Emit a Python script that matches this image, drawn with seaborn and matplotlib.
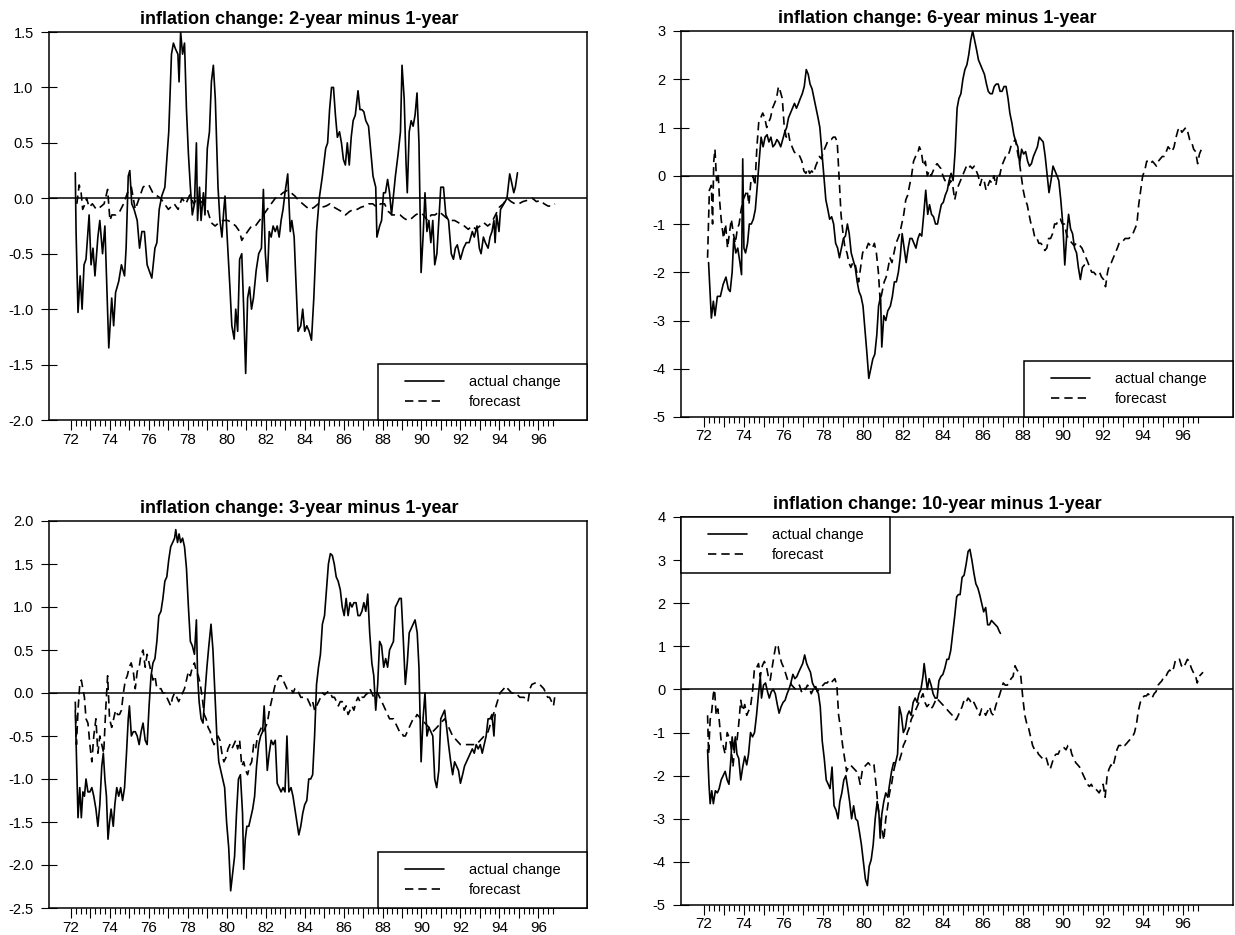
import numpy as np
import pandas as pd
import matplotlib
matplotlib.use("Agg")
import matplotlib.pyplot as plt
from matplotlib.patches import Rectangle
import seaborn as sns

sns.set_style("ticks")
plt.rcParams["font.family"] = ["Liberation Sans", "DejaVu Sans"]
plt.rcParams["axes.unicode_minus"] = False
plt.rcParams["text.color"] = "black"
plt.rcParams["axes.titlecolor"] = "black"

# years are two-digit decimal years (72.5 = mid 1972)

# ---- 2-year minus 1-year ----
yr_2y_act = [72.22, 72.26, 72.36, 72.47, 72.57, 72.67, 72.77, 72.93, 73.03, 73.13,
             73.23, 73.38, 73.48, 73.62, 73.74, 73.94, 74.09, 74.19, 74.29, 74.45,
             74.59, 74.75, 74.83, 74.94, 75.02, 75.12, 75.24, 75.40, 75.52, 75.64,
             75.77, 75.91, 76.01, 76.15, 76.31, 76.41, 76.53, 76.66, 76.82, 77.02,
             77.16, 77.26, 77.36, 77.49, 77.55, 77.63, 77.73, 77.83, 77.93, 78.03,
             78.13, 78.23, 78.34, 78.44, 78.50, 78.60, 78.68, 78.80, 78.88, 79.00,
             79.11, 79.21, 79.31, 79.41, 79.55, 79.65, 79.75, 79.85, 79.91, 80.02,
             80.16, 80.26, 80.38, 80.46, 80.56, 80.66, 80.77, 80.87, 80.97, 81.07,
             81.17, 81.27, 81.37, 81.51, 81.64, 81.78, 81.88, 81.98, 82.08, 82.18,
             82.28, 82.38, 82.49, 82.59, 82.69, 82.79, 82.89, 82.99, 83.13, 83.26,
             83.34, 83.46, 83.54, 83.66, 83.80, 83.90, 84.00, 84.11, 84.23, 84.35,
             84.47, 84.61, 84.75, 84.91, 85.08, 85.18, 85.28, 85.38, 85.48, 85.58,
             85.68, 85.79, 85.89, 85.99, 86.09, 86.19, 86.29, 86.39, 86.49, 86.60,
             86.74, 86.84, 86.94, 87.04, 87.14, 87.28, 87.38, 87.51, 87.65, 87.71,
             87.85, 87.95, 88.05, 88.15, 88.26, 88.36, 88.46, 88.66, 88.80, 88.92,
             89.00, 89.11, 89.21, 89.27, 89.37, 89.47, 89.57, 89.67, 89.77, 89.87,
             89.98, 90.08, 90.18, 90.28, 90.38, 90.48, 90.58, 90.68, 90.79, 90.89,
             90.99, 91.13, 91.25, 91.39, 91.53, 91.64, 91.74, 91.84, 92.00, 92.16,
             92.30, 92.45, 92.61, 92.71, 92.85, 92.97, 93.06, 93.18, 93.28, 93.42,
             93.52, 93.62, 93.72, 93.78, 93.86, 93.98, 94.06, 94.23, 94.39, 94.53,
             94.62, 94.74, 94.82, 94.93]
chg_2y_act = [0.23, -0.30, -1.03, -0.70, -1.00, -0.60, -0.55, -0.15, -0.60, -0.45,
              -0.70, -0.35, -0.20, -0.50, -0.25, -1.35, -0.90, -1.15, -0.85, -0.75,
              -0.60, -0.70, -0.45, 0.20, 0.25, -0.05, -0.10, -0.20, -0.45, -0.30,
              -0.30, -0.60, -0.65, -0.72, -0.45, -0.40, -0.10, 0.02, 0.10, 0.60,
              1.30, 1.40, 1.35, 1.30, 1.05, 1.50, 1.30, 1.40, 0.80, 0.40,
              0.10, -0.15, -0.05, 0.50, -0.20, 0.10, -0.20, 0.05, -0.15, 0.45,
              0.60, 1.05, 1.20, 0.90, 0.10, -0.20, -0.35, -0.10, 0.02, -0.35,
              -0.80, -1.15, -1.27, -1.00, -1.20, -0.55, -0.50, -1.00, -1.58, -0.90,
              -0.80, -1.00, -0.90, -0.65, -0.50, -0.45, 0.08, -0.50, -0.75, -0.30,
              -0.35, -0.25, -0.30, -0.25, -0.35, -0.20, -0.10, 0.05, 0.22, -0.30,
              -0.20, -0.35, -0.70, -1.20, -1.15, -1.00, -1.20, -1.15, -1.20, -1.28,
              -0.90, -0.30, 0.00, 0.20, 0.45, 0.50, 0.80, 1.00, 1.00, 0.75,
              0.55, 0.60, 0.50, 0.35, 0.30, 0.50, 0.30, 0.55, 0.70, 0.75,
              0.97, 0.80, 0.80, 0.78, 0.70, 0.65, 0.45, 0.20, 0.10, -0.35,
              -0.25, -0.20, 0.05, 0.05, 0.17, 0.05, -0.15, 0.20, 0.40, 0.60,
              1.20, 0.90, 0.30, 0.05, 0.60, 0.70, 0.65, 0.75, 0.95, 0.50,
              -0.67, -0.35, 0.05, -0.30, -0.20, -0.40, -0.20, -0.60, -0.50, -0.20,
              0.10, 0.10, -0.15, -0.20, -0.50, -0.55, -0.45, -0.42, -0.55, -0.45,
              -0.40, -0.40, -0.30, -0.35, -0.25, -0.45, -0.50, -0.35, -0.40, -0.45,
              -0.35, -0.30, -0.20, -0.40, -0.15, -0.30, -0.10, -0.05, 0.00, 0.22,
              0.15, 0.05, 0.10, 0.23]
yr_2y_fc = [72.30, 72.42, 72.52, 72.60, 72.72, 72.80, 72.93, 73.10, 73.30, 73.50,
            73.70, 73.88, 74.00, 74.10, 74.30, 74.50, 74.70, 74.90, 75.10, 75.30,
            75.50, 75.70, 75.85, 76.00, 76.20, 76.60, 77.00, 77.30, 77.50, 77.70,
            77.90, 78.10, 78.30, 78.50, 78.80, 79.00, 79.20, 79.40, 79.60, 79.80,
            80.06, 80.26, 80.46, 80.66, 80.77, 80.87, 81.07, 81.27, 81.47, 81.68,
            81.88, 82.08, 82.28, 82.49, 82.69, 82.89, 83.09, 83.30, 83.50, 83.70,
            83.90, 84.10, 84.30, 84.50, 84.70, 84.90, 85.10, 85.30, 85.50, 85.70,
            85.90, 86.10, 86.30, 86.50, 86.70, 86.90, 87.10, 87.30, 87.50, 87.70,
            87.90, 88.10, 88.30, 88.50, 88.70, 88.90, 89.10, 89.30, 89.50, 89.70,
            89.90, 90.10, 90.30, 90.50, 90.70, 90.90, 91.10, 91.30, 91.50, 91.70,
            91.90, 92.20, 92.40, 92.60, 92.80, 93.00, 93.20, 93.40, 93.60, 93.80,
            94.00, 94.20, 94.40, 94.60, 94.80, 95.00, 95.20, 95.40, 95.70, 95.90,
            96.10, 96.30, 96.50, 96.70, 96.85]
chg_2y_fc = [-0.05, 0.12, 0.05, -0.10, -0.05, 0.00, -0.08, -0.05, -0.10, -0.08,
             -0.05, 0.08, -0.20, -0.15, -0.15, -0.12, -0.05, 0.05, 0.10, -0.10,
             0.00, 0.10, 0.12, 0.12, 0.05, 0.00, -0.10, -0.05, -0.10, 0.00,
             -0.05, 0.03, -0.05, 0.00, -0.05, -0.10, -0.22, -0.25, -0.22, -0.20,
             -0.20, -0.22, -0.25, -0.30, -0.38, -0.35, -0.30, -0.25, -0.25, -0.20,
             -0.15, -0.10, -0.05, 0.00, 0.02, 0.05, 0.07, 0.05, 0.02, -0.02,
             -0.05, -0.08, -0.10, -0.08, -0.05, -0.08, -0.07, -0.05, -0.08, -0.10,
             -0.12, -0.15, -0.12, -0.10, -0.10, -0.08, -0.07, -0.05, -0.05, -0.08,
             -0.05, -0.05, -0.12, -0.15, -0.15, -0.15, -0.18, -0.20, -0.18, -0.15,
             -0.13, -0.15, -0.20, -0.15, -0.15, -0.12, -0.15, -0.18, -0.20, -0.20,
             -0.22, -0.25, -0.28, -0.25, -0.28, -0.25, -0.22, -0.25, -0.22, -0.15,
             -0.08, -0.05, 0.00, -0.03, -0.05, -0.05, -0.03, -0.02, 0.00, -0.03,
             -0.02, -0.05, -0.07, -0.07, -0.05]

# ---- 6-year minus 1-year ----
yr_6y_act = [72.25, 72.39, 72.49, 72.57, 72.69, 72.84, 72.98, 73.12, 73.24, 73.33,
             73.43, 73.51, 73.61, 73.71, 73.82, 73.90, 73.96, 74.02, 74.10, 74.20,
             74.29, 74.39, 74.49, 74.59, 74.69, 74.78, 74.88, 74.98, 75.08, 75.18,
             75.27, 75.37, 75.47, 75.57, 75.67, 75.76, 75.86, 75.96, 76.06, 76.16,
             76.25, 76.35, 76.45, 76.55, 76.65, 76.75, 76.84, 76.94, 77.04, 77.14,
             77.24, 77.33, 77.43, 77.53, 77.63, 77.73, 77.82, 77.92, 78.02, 78.12,
             78.22, 78.31, 78.41, 78.51, 78.61, 78.71, 78.80, 78.90, 79.00, 79.10,
             79.20, 79.29, 79.39, 79.49, 79.59, 79.69, 79.78, 79.88, 79.98, 80.08,
             80.18, 80.27, 80.37, 80.47, 80.57, 80.67, 80.76, 80.86, 80.92, 81.02,
             81.12, 81.22, 81.35, 81.45, 81.55, 81.65, 81.75, 81.84, 81.94, 82.04,
             82.14, 82.24, 82.33, 82.43, 82.53, 82.63, 82.73, 82.82, 82.92, 83.02,
             83.12, 83.22, 83.31, 83.41, 83.51, 83.61, 83.71, 83.80, 83.90, 84.00,
             84.10, 84.20, 84.29, 84.39, 84.49, 84.59, 84.69, 84.78, 84.88, 84.98,
             85.08, 85.18, 85.27, 85.37, 85.47, 85.57, 85.67, 85.76, 85.86, 85.96,
             86.06, 86.16, 86.25, 86.35, 86.45, 86.55, 86.65, 86.75, 86.84, 86.94,
             87.04, 87.14, 87.24, 87.33, 87.43, 87.53, 87.63, 87.73, 87.82, 87.92,
             88.02, 88.12, 88.22, 88.31, 88.41, 88.51, 88.61, 88.71, 88.80, 88.90,
             89.00, 89.10, 89.20, 89.29, 89.39, 89.49, 89.59, 89.69, 89.78, 89.88,
             89.98, 90.08, 90.18, 90.27, 90.37, 90.47, 90.57, 90.67, 90.76, 90.86,
             90.96, 91.06]
chg_6y_act = [-1.80, -2.95, -2.60, -2.90, -2.50, -2.50, -2.25, -2.10, -2.35, -2.40,
              -2.00, -1.30, -1.60, -1.50, -1.80, -2.05, 0.35, -1.50, -1.60, -1.40,
              -1.00, -1.00, -0.90, -0.70, -0.20, 0.30, 0.80, 0.60, 0.80, 0.85,
              0.70, 0.80, 0.60, 0.65, 0.75, 0.70, 0.60, 0.75, 0.90, 1.00,
              1.20, 1.30, 1.40, 1.50, 1.40, 1.50, 1.60, 1.70, 1.85, 2.20,
              2.10, 1.90, 1.80, 1.60, 1.40, 1.20, 1.00, 0.50, 0.00, -0.50,
              -0.70, -0.90, -0.85, -1.00, -1.40, -1.50, -1.70, -1.50, -1.30, -1.25,
              -1.00, -1.20, -1.60, -1.75, -1.90, -2.20, -2.40, -2.50, -2.70, -3.20,
              -3.70, -4.20, -4.00, -3.80, -3.70, -3.30, -2.70, -2.50, -3.55, -2.90,
              -3.00, -2.80, -2.70, -2.50, -2.20, -2.20, -2.00, -1.70, -1.20, -1.50,
              -1.80, -1.50, -1.30, -1.30, -1.40, -1.50, -1.30, -1.20, -1.25, -0.80,
              -0.30, -0.80, -0.60, -0.80, -0.85, -1.00, -1.00, -0.80, -0.60, -0.55,
              -0.40, -0.30, -0.10, 0.05, -0.10, 0.50, 1.40, 1.60, 1.70, 2.00,
              2.20, 2.30, 2.50, 2.80, 3.00, 2.80, 2.60, 2.40, 2.30, 2.20,
              2.10, 1.90, 1.75, 1.70, 1.70, 1.85, 1.90, 1.90, 1.75, 1.75,
              1.85, 1.85, 1.60, 1.30, 1.10, 0.85, 0.70, 0.60, 0.25, 0.55,
              0.45, 0.50, 0.30, 0.20, 0.25, 0.40, 0.50, 0.60, 0.80, 0.75,
              0.70, 0.40, 0.00, -0.35, -0.10, 0.20, 0.10, 0.00, -0.10, -0.50,
              -1.00, -1.85, -1.20, -0.80, -1.10, -1.20, -1.50, -1.60, -1.90, -2.15,
              -1.90, -1.85]
yr_6y_fc = [72.20, 72.29, 72.39, 72.45, 72.51, 72.57, 72.65, 72.73, 72.80, 72.88,
            73.00, 73.10, 73.20, 73.29, 73.39, 73.49, 73.59, 73.69, 73.78, 73.88,
            73.98, 74.08, 74.18, 74.27, 74.37, 74.47, 74.57, 74.67, 74.76, 74.86,
            74.96, 75.06, 75.16, 75.25, 75.35, 75.45, 75.55, 75.65, 75.75, 75.84,
            75.94, 76.04, 76.14, 76.24, 76.33, 76.43, 76.53, 76.63, 76.73, 76.82,
            76.92, 77.02, 77.12, 77.22, 77.31, 77.41, 77.51, 77.61, 77.71, 77.80,
            77.90, 78.00, 78.10, 78.20, 78.29, 78.39, 78.49, 78.59, 78.69, 78.78,
            78.88, 78.98, 79.08, 79.18, 79.27, 79.37, 79.47, 79.57, 79.67, 79.76,
            79.86, 79.96, 80.06, 80.16, 80.25, 80.35, 80.45, 80.55, 80.65, 80.75,
            80.84, 80.94, 81.04, 81.14, 81.24, 81.33, 81.43, 81.53, 81.63, 81.73,
            81.82, 81.92, 82.02, 82.12, 82.22, 82.31, 82.41, 82.51, 82.61, 82.71,
            82.80, 82.90, 83.00, 83.10, 83.20, 83.29, 83.39, 83.49, 83.59, 83.69,
            83.78, 83.88, 83.98, 84.08, 84.18, 84.27, 84.37, 84.47, 84.57, 84.67,
            84.76, 84.86, 84.96, 85.06, 85.16, 85.25, 85.35, 85.45, 85.55, 85.65,
            85.75, 85.84, 85.94, 86.04, 86.14, 86.24, 86.33, 86.43, 86.53, 86.63,
            86.73, 86.82, 86.92, 87.02, 87.12, 87.22, 87.31, 87.41, 87.51, 87.61,
            87.71, 87.80, 87.90, 88.00, 88.10, 88.20, 88.29, 88.39, 88.49, 88.59,
            88.69, 88.78, 88.88, 88.98, 89.08, 89.18, 89.27, 89.37, 89.47, 89.57,
            89.67, 89.76, 89.86, 89.96, 90.06, 90.16, 90.25, 90.35, 90.45, 90.55,
            90.65, 90.75, 90.84, 90.94, 91.04, 91.14, 91.24, 91.33, 91.43, 91.53,
            91.63, 91.73, 91.82, 91.92, 92.02, 92.12, 92.22, 92.31, 92.41, 92.51,
            92.61, 92.71, 92.80, 92.90, 93.00, 93.10, 93.20, 93.29, 93.39, 93.49,
            93.59, 93.69, 93.78, 93.88, 93.98, 94.08, 94.18, 94.27, 94.37, 94.47,
            94.57, 94.67, 94.76, 94.86, 94.96, 95.06, 95.16, 95.25, 95.35, 95.45,
            95.55, 95.65, 95.75, 95.84, 95.94, 96.04, 96.14, 96.24, 96.33, 96.43,
            96.53, 96.63, 96.73, 96.82, 96.92, 97.02]
chg_6y_fc = [-1.70, -0.30, -0.20, -1.00, 0.30, 0.55, -0.10, 0.05, -0.50, -0.90,
             -1.30, -1.00, -1.50, -1.20, -0.90, -1.20, -1.40, -1.10, -1.00, -0.70,
             -0.50, -0.40, -0.30, -0.60, -0.10, 0.00, -0.20, 0.60, 1.10, 1.20,
             1.30, 1.20, 1.00, 1.10, 1.20, 1.40, 1.50, 1.60, 1.85, 1.75,
             1.60, 1.00, 0.80, 0.90, 0.70, 0.60, 0.50, 0.45, 0.45, 0.40,
             0.30, 0.10, 0.05, 0.15, 0.05, 0.10, 0.05, 0.20, 0.30, 0.40,
             0.35, 0.50, 0.60, 0.70, 0.75, 0.75, 0.80, 0.80, 0.70, 0.00,
             -0.80, -1.20, -1.50, -1.60, -1.80, -1.90, -1.80, -1.80, -2.00, -2.20,
             -1.90, -1.60, -1.50, -1.50, -1.40, -1.45, -1.50, -1.40, -1.60, -2.00,
             -2.60, -2.40, -2.20, -2.10, -1.90, -1.70, -1.80, -1.60, -1.40, -1.30,
             -1.20, -1.00, -0.80, -0.50, -0.40, -0.20, 0.00, 0.30, 0.40, 0.45,
             0.60, 0.50, 0.20, 0.30, 0.00, 0.10, 0.00, 0.10, 0.20, 0.25,
             0.20, 0.15, 0.00, -0.10, -0.10, -0.20, -0.10, -0.20, -0.50, -0.30,
             -0.20, -0.10, 0.00, 0.10, 0.20, 0.15, 0.20, 0.15, 0.20, 0.10,
             0.00, -0.20, -0.05, -0.10, -0.30, -0.20, -0.10, -0.15, 0.00, -0.20,
             0.05, 0.00, 0.20, 0.30, 0.40, 0.40, 0.50, 0.65, 0.70, 0.75,
             0.50, 0.30, 0.00, -0.30, -0.50, -0.60, -0.80, -1.00, -1.10, -1.30,
             -1.30, -1.40, -1.40, -1.45, -1.55, -1.50, -1.30, -1.30, -1.20, -1.00,
             -1.00, -0.90, -0.90, -1.00, -1.00, -1.20, -1.30, -1.35, -1.40, -1.45,
             -1.40, -1.40, -1.45, -1.50, -1.60, -1.70, -1.80, -1.90, -2.00, -2.00,
             -2.05, -2.00, -2.00, -2.10, -2.15, -2.30, -2.00, -1.85, -1.80, -1.70,
             -1.60, -1.50, -1.40, -1.35, -1.35, -1.30, -1.30, -1.30, -1.25, -1.20,
             -1.10, -1.00, -0.60, -0.30, 0.00, 0.10, 0.30, 0.30, 0.25, 0.30,
             0.25, 0.20, 0.30, 0.35, 0.40, 0.40, 0.50, 0.60, 0.55, 0.50,
             0.60, 0.80, 0.95, 1.00, 0.90, 0.95, 1.00, 0.90, 0.75, 0.70,
             0.55, 0.50, 0.25, 0.45, 0.55, 0.60]

# ---- 3-year minus 1-year ----
yr_3y_act = [72.22, 72.30, 72.36, 72.45, 72.53, 72.61, 72.69, 72.77, 72.87, 72.97,
             73.07, 73.17, 73.28, 73.38, 73.48, 73.58, 73.66, 73.74, 73.82, 73.90,
             73.98, 74.06, 74.17, 74.25, 74.35, 74.45, 74.55, 74.65, 74.75, 74.85,
             74.94, 75.00, 75.10, 75.20, 75.30, 75.40, 75.50, 75.60, 75.70, 75.81,
             75.91, 76.01, 76.11, 76.21, 76.31, 76.41, 76.51, 76.62, 76.72, 76.82,
             76.92, 77.02, 77.12, 77.22, 77.32, 77.38, 77.47, 77.55, 77.63, 77.73,
             77.83, 77.93, 78.03, 78.13, 78.23, 78.34, 78.44, 78.50, 78.58, 78.68,
             78.78, 78.88, 78.98, 79.08, 79.19, 79.29, 79.39, 79.49, 79.59, 79.69,
             79.79, 79.89, 79.99, 80.10, 80.20, 80.30, 80.40, 80.50, 80.60, 80.70,
             80.81, 80.87, 80.95, 81.03, 81.13, 81.23, 81.33, 81.43, 81.53, 81.64,
             81.74, 81.84, 81.92, 82.00, 82.08, 82.18, 82.28, 82.38, 82.49, 82.59,
             82.69, 82.79, 82.89, 82.99, 83.09, 83.19, 83.30, 83.40, 83.50, 83.60,
             83.70, 83.80, 83.90, 84.00, 84.11, 84.21, 84.31, 84.41, 84.51, 84.61,
             84.71, 84.81, 84.91, 85.02, 85.12, 85.22, 85.32, 85.42, 85.52, 85.62,
             85.72, 85.83, 85.93, 86.03, 86.13, 86.23, 86.33, 86.43, 86.53, 86.64,
             86.74, 86.84, 86.94, 87.04, 87.14, 87.24, 87.34, 87.45, 87.55, 87.65,
             87.75, 87.85, 87.95, 88.06, 88.16, 88.26, 88.36, 88.46, 88.56, 88.66,
             88.77, 88.87, 88.96, 89.07, 89.17, 89.27, 89.37, 89.47, 89.57, 89.67,
             89.78, 89.87, 89.98, 90.08, 90.18, 90.28, 90.38, 90.48, 90.58, 90.68,
             90.78, 90.89, 90.99, 91.09, 91.19, 91.29, 91.39, 91.50, 91.60, 91.70,
             91.80, 91.90, 92.00, 92.11, 92.21, 92.31, 92.41, 92.51, 92.61, 92.71,
             92.81, 92.91, 93.02, 93.12, 93.22, 93.32, 93.42, 93.52, 93.62, 93.72,
             93.78]
chg_3y_act = [-0.20, -0.90, -1.45, -1.10, -1.45, -1.15, -1.20, -1.00, -1.15, -1.15,
              -1.10, -1.20, -1.35, -1.55, -1.30, -0.85, -0.70, -1.00, -1.20, -1.70,
              -1.50, -1.35, -1.55, -1.30, -1.10, -1.20, -1.10, -1.25, -1.10, -0.70,
              -0.30, -0.15, -0.50, -0.45, -0.45, -0.50, -0.60, -0.45, -0.35, -0.55,
              -0.60, -0.15, 0.20, 0.35, 0.40, 0.60, 0.90, 0.95, 1.10, 1.30,
              1.35, 1.55, 1.70, 1.75, 1.80, 1.90, 1.75, 1.85, 1.75, 1.80,
              1.70, 1.45, 1.00, 0.60, 0.55, 0.45, 0.85, 0.20, -0.10, -0.30,
              -0.35, 0.00, 0.30, 0.55, 0.80, 0.50, 0.00, -0.50, -0.80, -0.90,
              -1.00, -1.10, -1.50, -1.80, -2.30, -2.10, -1.90, -1.40, -1.00, -0.95,
              -1.40, -2.05, -1.70, -1.55, -1.55, -1.45, -1.35, -1.20, -0.85, -0.60,
              -0.50, -0.45, -0.15, -0.50, -0.90, -0.70, -0.55, -0.60, -0.55, -1.05,
              -1.10, -1.15, -1.10, -1.15, -0.50, -1.15, -1.10, -1.20, -1.35, -1.50,
              -1.65, -1.55, -1.40, -1.30, -1.25, -1.00, -1.00, -0.95, -0.50, 0.10,
              0.30, 0.45, 0.80, 0.90, 1.20, 1.50, 1.62, 1.60, 1.50, 1.35,
              1.30, 1.20, 1.00, 0.90, 1.10, 0.90, 1.05, 1.00, 1.05, 1.05,
              0.90, 0.90, 0.95, 1.05, 0.95, 1.15, 0.70, 0.35, 0.20, -0.20,
              0.10, 0.60, 0.55, 0.30, 0.40, 0.30, 0.50, 0.55, 0.60, 1.00,
              1.05, 1.10, 1.10, 0.60, 0.10, 0.35, 0.70, 0.75, 0.80, 0.85,
              0.70, 0.30, -0.80, -0.30, 0.00, -0.50, -0.40, -0.45, -0.50, -1.00,
              -1.10, -0.90, -0.30, -0.25, -0.20, -0.40, -0.60, -0.80, -0.95, -0.80,
              -0.85, -0.90, -1.05, -0.95, -0.85, -0.80, -0.75, -0.70, -0.65, -0.70,
              -0.60, -0.65, -0.60, -0.70, -0.60, -0.50, -0.30, -0.30, -0.25, -0.50,
              -0.25]
yr_3y_fc = [72.22, 72.28, 72.36, 72.45, 72.53, 72.61, 72.69, 72.77, 72.87, 72.97,
            73.07, 73.17, 73.28, 73.38, 73.48, 73.58, 73.68, 73.78, 73.88, 73.98,
            74.09, 74.19, 74.29, 74.39, 74.49, 74.59, 74.69, 74.79, 74.89, 74.99,
            75.09, 75.20, 75.30, 75.40, 75.50, 75.60, 75.70, 75.81, 75.91, 76.01,
            76.11, 76.21, 76.31, 76.41, 76.51, 76.62, 76.72, 76.82, 76.92, 77.02,
            77.12, 77.22, 77.32, 77.43, 77.53, 77.63, 77.73, 77.83, 77.93, 78.03,
            78.13, 78.23, 78.34, 78.44, 78.54, 78.64, 78.74, 78.84, 78.94, 79.04,
            79.15, 79.25, 79.35, 79.45, 79.55, 79.65, 79.75, 79.85, 79.96, 80.06,
            80.16, 80.26, 80.36, 80.46, 80.56, 80.66, 80.77, 80.87, 80.97, 81.07,
            81.17, 81.28, 81.38, 81.48, 81.58, 81.68, 81.78, 81.88, 81.98, 82.08,
            82.19, 82.29, 82.39, 82.49, 82.59, 82.69, 82.79, 82.89, 82.99, 83.09,
            83.20, 83.30, 83.40, 83.50, 83.60, 83.70, 83.80, 83.90, 84.00, 84.11,
            84.21, 84.31, 84.41, 84.51, 84.61, 84.72, 84.82, 84.92, 85.02, 85.12,
            85.22, 85.32, 85.42, 85.53, 85.63, 85.73, 85.83, 85.93, 86.03, 86.13,
            86.23, 86.33, 86.43, 86.53, 86.64, 86.74, 86.84, 86.94, 87.04, 87.14,
            87.25, 87.35, 87.45, 87.55, 87.65, 87.75, 87.85, 87.96, 88.06, 88.16,
            88.26, 88.36, 88.46, 88.56, 88.66, 88.77, 88.87, 88.97, 89.07, 89.17,
            89.27, 89.37, 89.47, 89.57, 89.67, 89.77, 89.98, 90.18, 90.38, 90.58,
            90.79, 90.99, 91.19, 91.40, 91.60, 91.80, 92.00, 92.21, 92.41, 92.61,
            92.81, 93.02, 93.22, 93.42, 93.62, 93.83, 94.03, 94.23, 94.33, 94.43,
            94.63, 94.84, 95.05, 95.26, 95.47, 95.57, 95.67, 95.87, 96.07, 96.28,
            96.48, 96.58, 96.68, 96.78, 96.84]
chg_3y_fc = [-0.10, -0.60, -0.20, 0.10, 0.15, 0.05, -0.05, -0.30, -0.35, -0.60,
             -0.80, -0.50, -0.30, -0.70, -0.50, -0.60, -0.70, -0.20, 0.20, -0.30,
             -0.40, -0.30, -0.20, -0.25, -0.25, -0.20, 0.00, 0.15, 0.20, 0.30,
             0.35, 0.25, 0.05, 0.25, 0.30, 0.45, 0.50, 0.30, 0.45, 0.35,
             0.25, 0.15, 0.20, 0.05, 0.05, 0.05, 0.00, 0.00, -0.05, -0.10,
             -0.15, -0.05, 0.00, -0.05, -0.10, -0.05, 0.00, 0.05, 0.15, 0.25,
             0.20, 0.30, 0.35, 0.25, 0.20, 0.10, -0.05, -0.25, -0.30, -0.40,
             -0.45, -0.55, -0.60, -0.55, -0.50, -0.55, -0.70, -0.80, -0.75, -0.65,
             -0.60, -0.65, -0.60, -0.55, -0.65, -0.55, -0.85, -0.80, -0.90, -0.95,
             -0.85, -0.80, -0.60, -0.65, -0.50, -0.45, -0.40, -0.45, -0.40, -0.35,
             -0.20, -0.10, 0.00, 0.10, 0.15, 0.20, 0.20, 0.15, 0.10, 0.05,
             0.05, 0.05, 0.00, 0.05, 0.05, 0.00, -0.05, -0.05, -0.05, -0.05,
             -0.10, -0.15, -0.10, -0.20, -0.15, -0.10, -0.05, 0.00, -0.02, 0.00,
             0.02, 0.00, -0.05, -0.05, -0.10, -0.15, -0.10, -0.10, -0.20, -0.15,
             -0.25, -0.20, -0.15, -0.20, -0.10, -0.05, -0.10, -0.05, -0.05, -0.02,
             0.00, 0.05, 0.00, -0.05, 0.00, 0.00, -0.05, -0.10, -0.15, -0.20,
             -0.25, -0.30, -0.30, -0.30, -0.35, -0.40, -0.45, -0.45, -0.50, -0.50,
             -0.45, -0.40, -0.35, -0.30, -0.30, -0.25, -0.30, -0.35, -0.40, -0.45,
             -0.40, -0.35, -0.30, -0.40, -0.50, -0.55, -0.60, -0.60, -0.60, -0.60,
             -0.60, -0.55, -0.50, -0.45, -0.30, -0.15, 0.00, 0.05, 0.08, 0.05,
             0.00, 0.00, -0.05, -0.05, -0.10, 0.05, 0.10, 0.12, 0.10, 0.05,
             -0.05, -0.05, -0.10, -0.15, -0.05]

# ---- 10-year minus 1-year ----
yr_10y_act = [72.20, 72.27, 72.33, 72.41, 72.49, 72.59, 72.69, 72.78, 72.88, 72.98,
              73.08, 73.18, 73.27, 73.37, 73.43, 73.51, 73.59, 73.67, 73.76, 73.86,
              73.96, 74.06, 74.16, 74.25, 74.35, 74.45, 74.55, 74.65, 74.75, 74.84,
              74.90, 75.00, 75.10, 75.20, 75.29, 75.39, 75.49, 75.59, 75.69, 75.78,
              75.88, 75.98, 76.08, 76.18, 76.27, 76.37, 76.47, 76.57, 76.67, 76.76,
              76.86, 76.96, 77.06, 77.16, 77.25, 77.35, 77.45, 77.55, 77.65, 77.75,
              77.84, 77.94, 78.04, 78.14, 78.24, 78.33, 78.43, 78.53, 78.63, 78.73,
              78.82, 78.92, 79.02, 79.12, 79.22, 79.31, 79.41, 79.51, 79.61, 79.71,
              79.80, 79.90, 80.00, 80.10, 80.20, 80.29, 80.39, 80.49, 80.59, 80.69,
              80.78, 80.84, 80.92, 81.02, 81.12, 81.22, 81.31, 81.41, 81.51, 81.61,
              81.71, 81.80, 81.90, 82.00, 82.10, 82.20, 82.29, 82.39, 82.49, 82.59,
              82.69, 82.78, 82.88, 82.98, 83.04, 83.12, 83.20, 83.29, 83.39, 83.49,
              83.59, 83.69, 83.78, 83.88, 83.98, 84.08, 84.18, 84.27, 84.37, 84.47,
              84.57, 84.67, 84.75, 84.84, 84.94, 85.04, 85.14, 85.24, 85.33, 85.43,
              85.53, 85.63, 85.73, 85.82, 85.92, 86.02, 86.12, 86.22, 86.31, 86.41,
              86.51, 86.61, 86.71, 86.80, 86.86]
chg_10y_act = [-1.40, -2.20, -2.65, -2.35, -2.65, -2.35, -2.40, -2.30, -2.10, -2.00,
               -1.90, -2.10, -2.20, -1.60, -1.10, -1.40, -1.10, -1.50, -1.60, -2.10,
               -1.80, -1.55, -1.75, -1.50, -1.00, -1.10, -1.00, -0.60, -0.10, 0.30,
               -0.20, 0.10, 0.15, -0.05, -0.20, -0.05, 0.00, -0.10, -0.35, -0.55,
               -0.40, -0.30, -0.25, -0.10, 0.00, 0.15, 0.35, 0.25, 0.30, 0.40,
               0.50, 0.60, 0.80, 0.60, 0.50, 0.40, 0.15, 0.05, 0.00, -0.10,
               -0.40, -1.20, -1.60, -2.10, -2.20, -2.30, -1.80, -2.70, -2.80, -3.00,
               -2.60, -2.40, -2.10, -2.00, -2.30, -2.60, -3.00, -2.70, -3.00, -3.05,
               -3.30, -3.60, -4.00, -4.40, -4.55, -4.10, -3.95, -3.60, -3.00, -2.60,
               -2.90, -3.45, -2.90, -2.60, -2.40, -2.50, -2.20, -1.90, -1.70, -1.70,
               -1.50, -0.40, -0.60, -1.00, -0.90, -0.60, -0.50, -0.60, -0.30, -0.20,
               -0.30, -0.10, 0.00, 0.30, 0.60, 0.30, 0.00, 0.25, 0.10, -0.10,
               -0.20, -0.20, 0.20, 0.30, 0.35, 0.50, 0.70, 0.70, 0.90, 1.30,
               1.70, 2.15, 2.20, 2.20, 2.60, 2.65, 2.90, 3.20, 3.25, 3.00,
               2.70, 2.45, 2.35, 2.20, 2.00, 1.80, 1.90, 1.50, 1.50, 1.60,
               1.55, 1.50, 1.45, 1.35, 1.30]
yr_10y_fc = [72.20, 72.25, 72.33, 72.41, 72.49, 72.55, 72.63, 72.71, 72.78, 72.88,
             72.98, 73.08, 73.18, 73.27, 73.37, 73.47, 73.57, 73.67, 73.76, 73.86,
             73.96, 74.06, 74.16, 74.25, 74.35, 74.45, 74.55, 74.65, 74.75, 74.84,
             74.94, 75.04, 75.14, 75.24, 75.33, 75.43, 75.53, 75.63, 75.73, 75.82,
             75.92, 76.02, 76.12, 76.22, 76.31, 76.41, 76.51, 76.61, 76.71, 76.80,
             76.90, 77.00, 77.10, 77.20, 77.29, 77.39, 77.49, 77.59, 77.69, 77.78,
             77.88, 77.98, 78.08, 78.18, 78.27, 78.37, 78.47, 78.57, 78.67, 78.76,
             78.86, 78.96, 79.06, 79.16, 79.25, 79.35, 79.45, 79.55, 79.65, 79.75,
             79.84, 79.94, 80.04, 80.14, 80.24, 80.33, 80.43, 80.53, 80.63, 80.73,
             80.82, 80.92, 81.02, 81.12, 81.22, 81.31, 81.41, 81.51, 81.61, 81.71,
             81.80, 81.90, 82.00, 82.10, 82.20, 82.29, 82.39, 82.49, 82.59, 82.69,
             82.78, 82.88, 82.98, 83.08, 83.18, 83.27, 83.37, 83.47, 83.57, 83.67,
             83.76, 83.86, 83.96, 84.06, 84.16, 84.25, 84.35, 84.45, 84.55, 84.65,
             84.75, 84.84, 84.94, 85.04, 85.14, 85.24, 85.33, 85.43, 85.53, 85.63,
             85.73, 85.82, 85.92, 86.02, 86.12, 86.22, 86.31, 86.41, 86.51, 86.61,
             86.71, 86.80, 86.90, 87.00, 87.10, 87.20, 87.29, 87.39, 87.49, 87.59,
             87.69, 87.78, 87.88, 87.98, 88.08, 88.18, 88.27, 88.37, 88.47, 88.57,
             88.67, 88.76, 88.86, 88.96, 89.06, 89.16, 89.25, 89.35, 89.45, 89.55,
             89.65, 89.75, 89.84, 89.94, 90.04, 90.14, 90.24, 90.33, 90.43, 90.53,
             90.63, 90.73, 90.82, 90.92, 91.02, 91.12, 91.22, 91.31, 91.41, 91.51,
             91.61, 91.71, 91.80, 91.90, 92.00, 92.10, 92.20, 92.29, 92.39, 92.49,
             92.59, 92.69, 92.78, 92.88, 92.98, 93.08, 93.18, 93.27, 93.37, 93.47,
             93.57, 93.67, 93.76, 93.86, 93.96, 94.06, 94.16, 94.25, 94.35, 94.45,
             94.55, 94.65, 94.75, 94.84, 94.94, 95.04, 95.14, 95.24, 95.33, 95.43,
             95.53, 95.63, 95.73, 95.82, 95.92, 96.02, 96.12, 96.22, 96.31, 96.41,
             96.51, 96.61, 96.71, 96.80, 96.90, 97.00]
chg_10y_fc = [-0.60, -1.50, -0.70, -0.50, -0.10, 0.00, -0.60, -0.45, -0.70, -1.20,
              -1.30, -1.50, -1.00, -1.10, -1.30, -1.80, -1.30, -1.20, -0.80, -0.25,
              -0.50, -0.35, -0.60, -0.50, -0.40, -0.05, 0.50, 0.50, 0.60, 0.30,
              0.55, 0.65, 0.55, 0.30, 0.20, 0.50, 0.80, 1.05, 1.00, 0.75,
              0.60, 0.50, 0.35, 0.20, 0.20, 0.10, 0.05, 0.00, 0.05, 0.10,
              -0.05, 0.05, 0.00, 0.10, 0.05, -0.10, 0.00, 0.10, -0.05, 0.00,
              0.05, 0.10, 0.15, 0.15, 0.20, 0.15, 0.20, 0.25, 0.10, -0.60,
              -0.90, -1.30, -1.60, -1.90, -1.80, -1.75, -1.80, -1.85, -1.90, -2.00,
              -2.20, -1.90, -1.80, -1.75, -1.70, -1.75, -1.70, -1.75, -2.20, -2.70,
              -3.00, -3.20, -3.50, -3.00, -2.70, -2.40, -2.20, -1.90, -1.70, -1.70,
              -1.65, -1.50, -1.30, -1.20, -1.00, -0.90, -0.70, -0.60, -0.50, -0.40,
              -0.30, -0.20, -0.10, -0.30, -0.40, -0.35, -0.45, -0.40, -0.30, -0.20,
              -0.25, -0.30, -0.35, -0.40, -0.45, -0.50, -0.55, -0.60, -0.70, -0.70,
              -0.60, -0.50, -0.40, -0.25, -0.30, -0.20, -0.25, -0.35, -0.30, -0.40,
              -0.50, -0.60, -0.45, -0.50, -0.60, -0.50, -0.40, -0.55, -0.60, -0.40,
              -0.25, -0.15, 0.00, 0.15, 0.10, 0.10, 0.15, 0.25, 0.30, 0.55,
              0.45, 0.40, 0.30, -0.20, -0.60, -0.80, -0.90, -1.10, -1.30, -1.40,
              -1.40, -1.50, -1.55, -1.60, -1.55, -1.60, -1.75, -1.85, -1.70, -1.55,
              -1.50, -1.50, -1.40, -1.35, -1.35, -1.40, -1.30, -1.30, -1.50, -1.60,
              -1.70, -1.75, -1.80, -1.90, -2.00, -2.10, -2.20, -2.25, -2.20, -2.30,
              -2.30, -2.35, -2.40, -2.30, -2.20, -2.50, -2.00, -1.85, -1.75, -1.80,
              -1.60, -1.40, -1.30, -1.30, -1.25, -1.30, -1.25, -1.20, -1.15, -1.10,
              -1.00, -0.80, -0.50, -0.30, -0.20, -0.15, -0.15, -0.10, -0.15, -0.20,
              -0.10, -0.05, 0.10, 0.15, 0.20, 0.30, 0.30, 0.40, 0.45, 0.40,
              0.50, 0.70, 0.70, 0.70, 0.55, 0.50, 0.60, 0.70, 0.65, 0.50,
              0.40, 0.35, 0.15, 0.30, 0.35, 0.40]

series_names = ["actual change", "forecast"]
year_labels = list(range(72, 97))

# ---- layout (pixels of a 1235 x 935 canvas) ----
W, H = 1235, 935
panels = [
    dict(title="inflation change: 2-year minus 1-year", box=(49, 32, 587, 420),
         act=(yr_2y_act, chg_2y_act), fc=(yr_2y_fc, chg_2y_fc),
         ylim=(-2.0, 1.5), yticks=np.arange(-2.0, 1.51, 0.5), fmt="{:.1f}", leg="lower right"),
    dict(title="inflation change: 6-year minus 1-year", box=(681, 31, 1233, 417),
         act=(yr_6y_act, chg_6y_act), fc=(yr_6y_fc, chg_6y_fc),
         ylim=(-5, 3), yticks=np.arange(-5, 3.1, 1), fmt="{:.0f}", leg="lower right"),
    dict(title="inflation change: 3-year minus 1-year", box=(49, 521, 587, 908),
         act=(yr_3y_act, chg_3y_act), fc=(yr_3y_fc, chg_3y_fc),
         ylim=(-2.5, 2.0), yticks=np.arange(-2.5, 2.01, 0.5), fmt="{:.1f}", leg="lower right"),
    dict(title="inflation change: 10-year minus 1-year", box=(681, 517, 1233, 905),
         act=(yr_10y_act, chg_10y_act), fc=(yr_10y_fc, chg_10y_fc),
         ylim=(-5, 4), yticks=np.arange(-5, 4.1, 1), fmt="{:.0f}", leg="upper left"),
]
LEG_W, LEG_H = 209, 56

fig = plt.figure(figsize=(W / 100, H / 100), dpi=100)

for p in panels:
    l, t, r, b = p["box"]
    ax = fig.add_axes([l / W, 1 - b / H, (r - l) / W, (b - t) / H])

    df = pd.concat([
        pd.DataFrame({"year": p["act"][0], "value": p["act"][1], "series": series_names[0]}),
        pd.DataFrame({"year": p["fc"][0], "value": p["fc"][1], "series": series_names[1]}),
    ], ignore_index=True)

    ax.axhline(0, color="black", lw=1.1, zorder=1)
    sns.lineplot(data=df, x="year", y="value", hue="series", style="series",
                 palette={series_names[0]: "black", series_names[1]: "black"},
                 dashes={series_names[0]: "", series_names[1]: (5, 3)},
                 estimator=None, sort=False, linewidth=1.2, ax=ax, zorder=2)

    leg = ax.get_legend()
    handles = leg.legend_handles
    labels = [tx.get_text() for tx in leg.get_texts()]
    leg.remove()

    ax.set_xlim(70.87, 98.5)
    ax.set_ylim(*p["ylim"])
    ax.set_xlabel("")
    ax.set_ylabel("")

    ax.set_xticks(year_labels)
    ax.set_xticklabels([str(y) if y % 2 == 0 else "" for y in year_labels])
    ax.set_xticks(np.arange(72.25, 96.8, 0.25), minor=True)
    ax.set_yticks(p["yticks"])
    ax.set_yticklabels([p["fmt"].format(v) for v in p["yticks"]])

    ax.tick_params(axis="x", which="major", direction="out", length=7, width=0.8,
                   pad=2, labelsize=11, colors="black")
    ax.tick_params(axis="x", which="minor", direction="out", length=4, width=0.8,
                   colors="black")
    ax.tick_params(axis="y", which="major", direction="inout", length=12, width=0.8,
                   pad=5, labelsize=10.5, colors="black")
    for s in ax.spines.values():
        s.set_visible(True)
        s.set_color("black")
        s.set_linewidth(1.1)

    ax.set_title(p["title"], fontsize=13, fontweight="bold", color="black", x=0.465, pad=6)

    # legend box
    fw, fh = LEG_W / (r - l), LEG_H / (b - t)
    x0, y0 = (1 - fw, 0) if p["leg"] == "lower right" else (0, 1 - fh)
    ax.add_patch(Rectangle((x0, y0), fw, fh, transform=ax.transAxes, facecolor="white",
                           edgecolor="black", lw=1.1, zorder=5, clip_on=False))
    lg = ax.legend(handles, labels, loc="center", bbox_to_anchor=(x0 + fw / 2, y0 + fh / 2),
                   frameon=False, fontsize=10.5, handlelength=2.7, handletextpad=1.7,
                   labelspacing=0.45, borderpad=0)
    for tx in lg.get_texts():
        tx.set_color("black")
    lg.set_zorder(6)

fig.savefig("out.png", dpi=100)
